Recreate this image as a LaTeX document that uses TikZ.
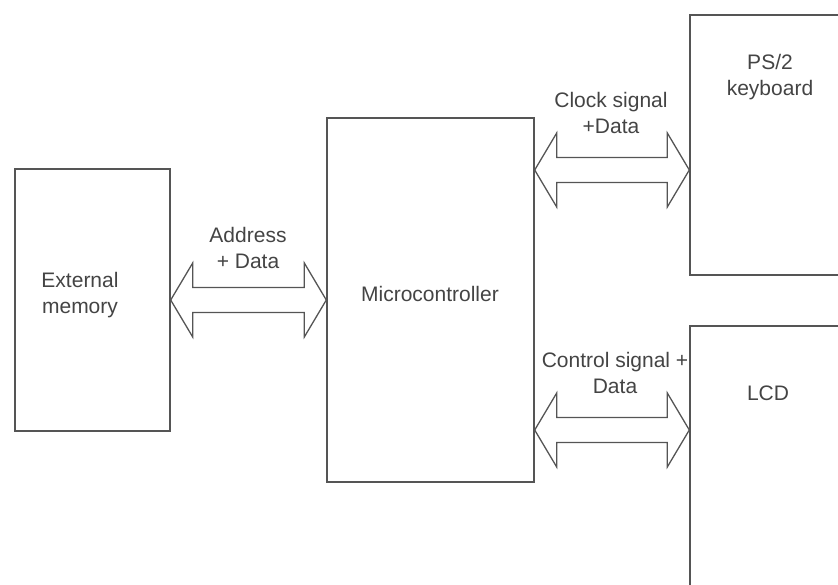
\documentclass[tikz,border=0pt]{standalone}
\usepackage{fontspec}
\setmainfont{Liberation Sans}
\usetikzlibrary{positioning}
\definecolor{ink}{HTML}{555555}
\definecolor{txtgray}{HTML}{444444}

\begin{document}
\begin{tikzpicture}[x=1pt,y=-1pt,
  blk/.style={draw=ink,line width=1.4pt,inner sep=0pt},
  lbl/.style={text=txtgray,font=\fontsize{21}{26}\selectfont,align=center,inner sep=0pt},
  bus/.style={draw=ink,line width=1.3pt,line join=miter,
    to path={-- ([shift={(22,-37)}]\tikztostart) -- ([shift={(22,-12.5)}]\tikztostart)
      -- ([shift={(-22,-12.5)}]\tikztotarget) -- ([shift={(-22,-37)}]\tikztotarget) -- (\tikztotarget)
      -- ([shift={(-22,37)}]\tikztotarget) -- ([shift={(-22,12.5)}]\tikztotarget)
      -- ([shift={(22,12.5)}]\tikztostart) -- ([shift={(22,37)}]\tikztostart) -- cycle}}]
\useasboundingbox (0,0) rectangle (838,584);
\clip (0,0) rectangle (838,584);
% blocks
\node[blk,minimum width=155pt,minimum height=262pt] (ext) at (92.5,300) {};
\node[blk,minimum width=207pt,minimum height=364pt] (mcu) at (430.5,300) {};
\node[blk,minimum width=160pt,minimum height=260pt] (kbd) at (770,145) {};
\node[blk,minimum width=160pt,minimum height=284pt] (lcd) at (770,468) {};
\node[lbl] (extlbl) at (80,295) {External\\memory};
\node[lbl] (mculbl) at (430,294) {Microcontroller};
\node[lbl] (kbdlbl) at (770,77) {PS/2\\keyboard};
\node[lbl] (lcdlbl) at (768,393) {LCD};
% buses
\coordinate (adrL) at (ext.east);
\coordinate (adrR) at (mcu.west);
\coordinate (clkL) at (mcu.east |- 0,170);
\coordinate (clkR) at (kbd.west |- 0,170);
\coordinate (ctlL) at (mcu.east |- 0,430);
\coordinate (ctlR) at (lcd.west |- 0,430);
\draw[bus] (adrL) to (adrR);
\draw[bus] (clkL) to (clkR);
\draw[bus] (ctlL) to (ctlR);
\node[lbl] (adrlbl) at (248,248) {Address\\+ Data};
\node[lbl] (clklbl) at (611,113) {Clock signal\\+Data};
\node[lbl] (ctllbl) at (615,373) {Control signal +\\Data};
\end{tikzpicture}
\end{document}
